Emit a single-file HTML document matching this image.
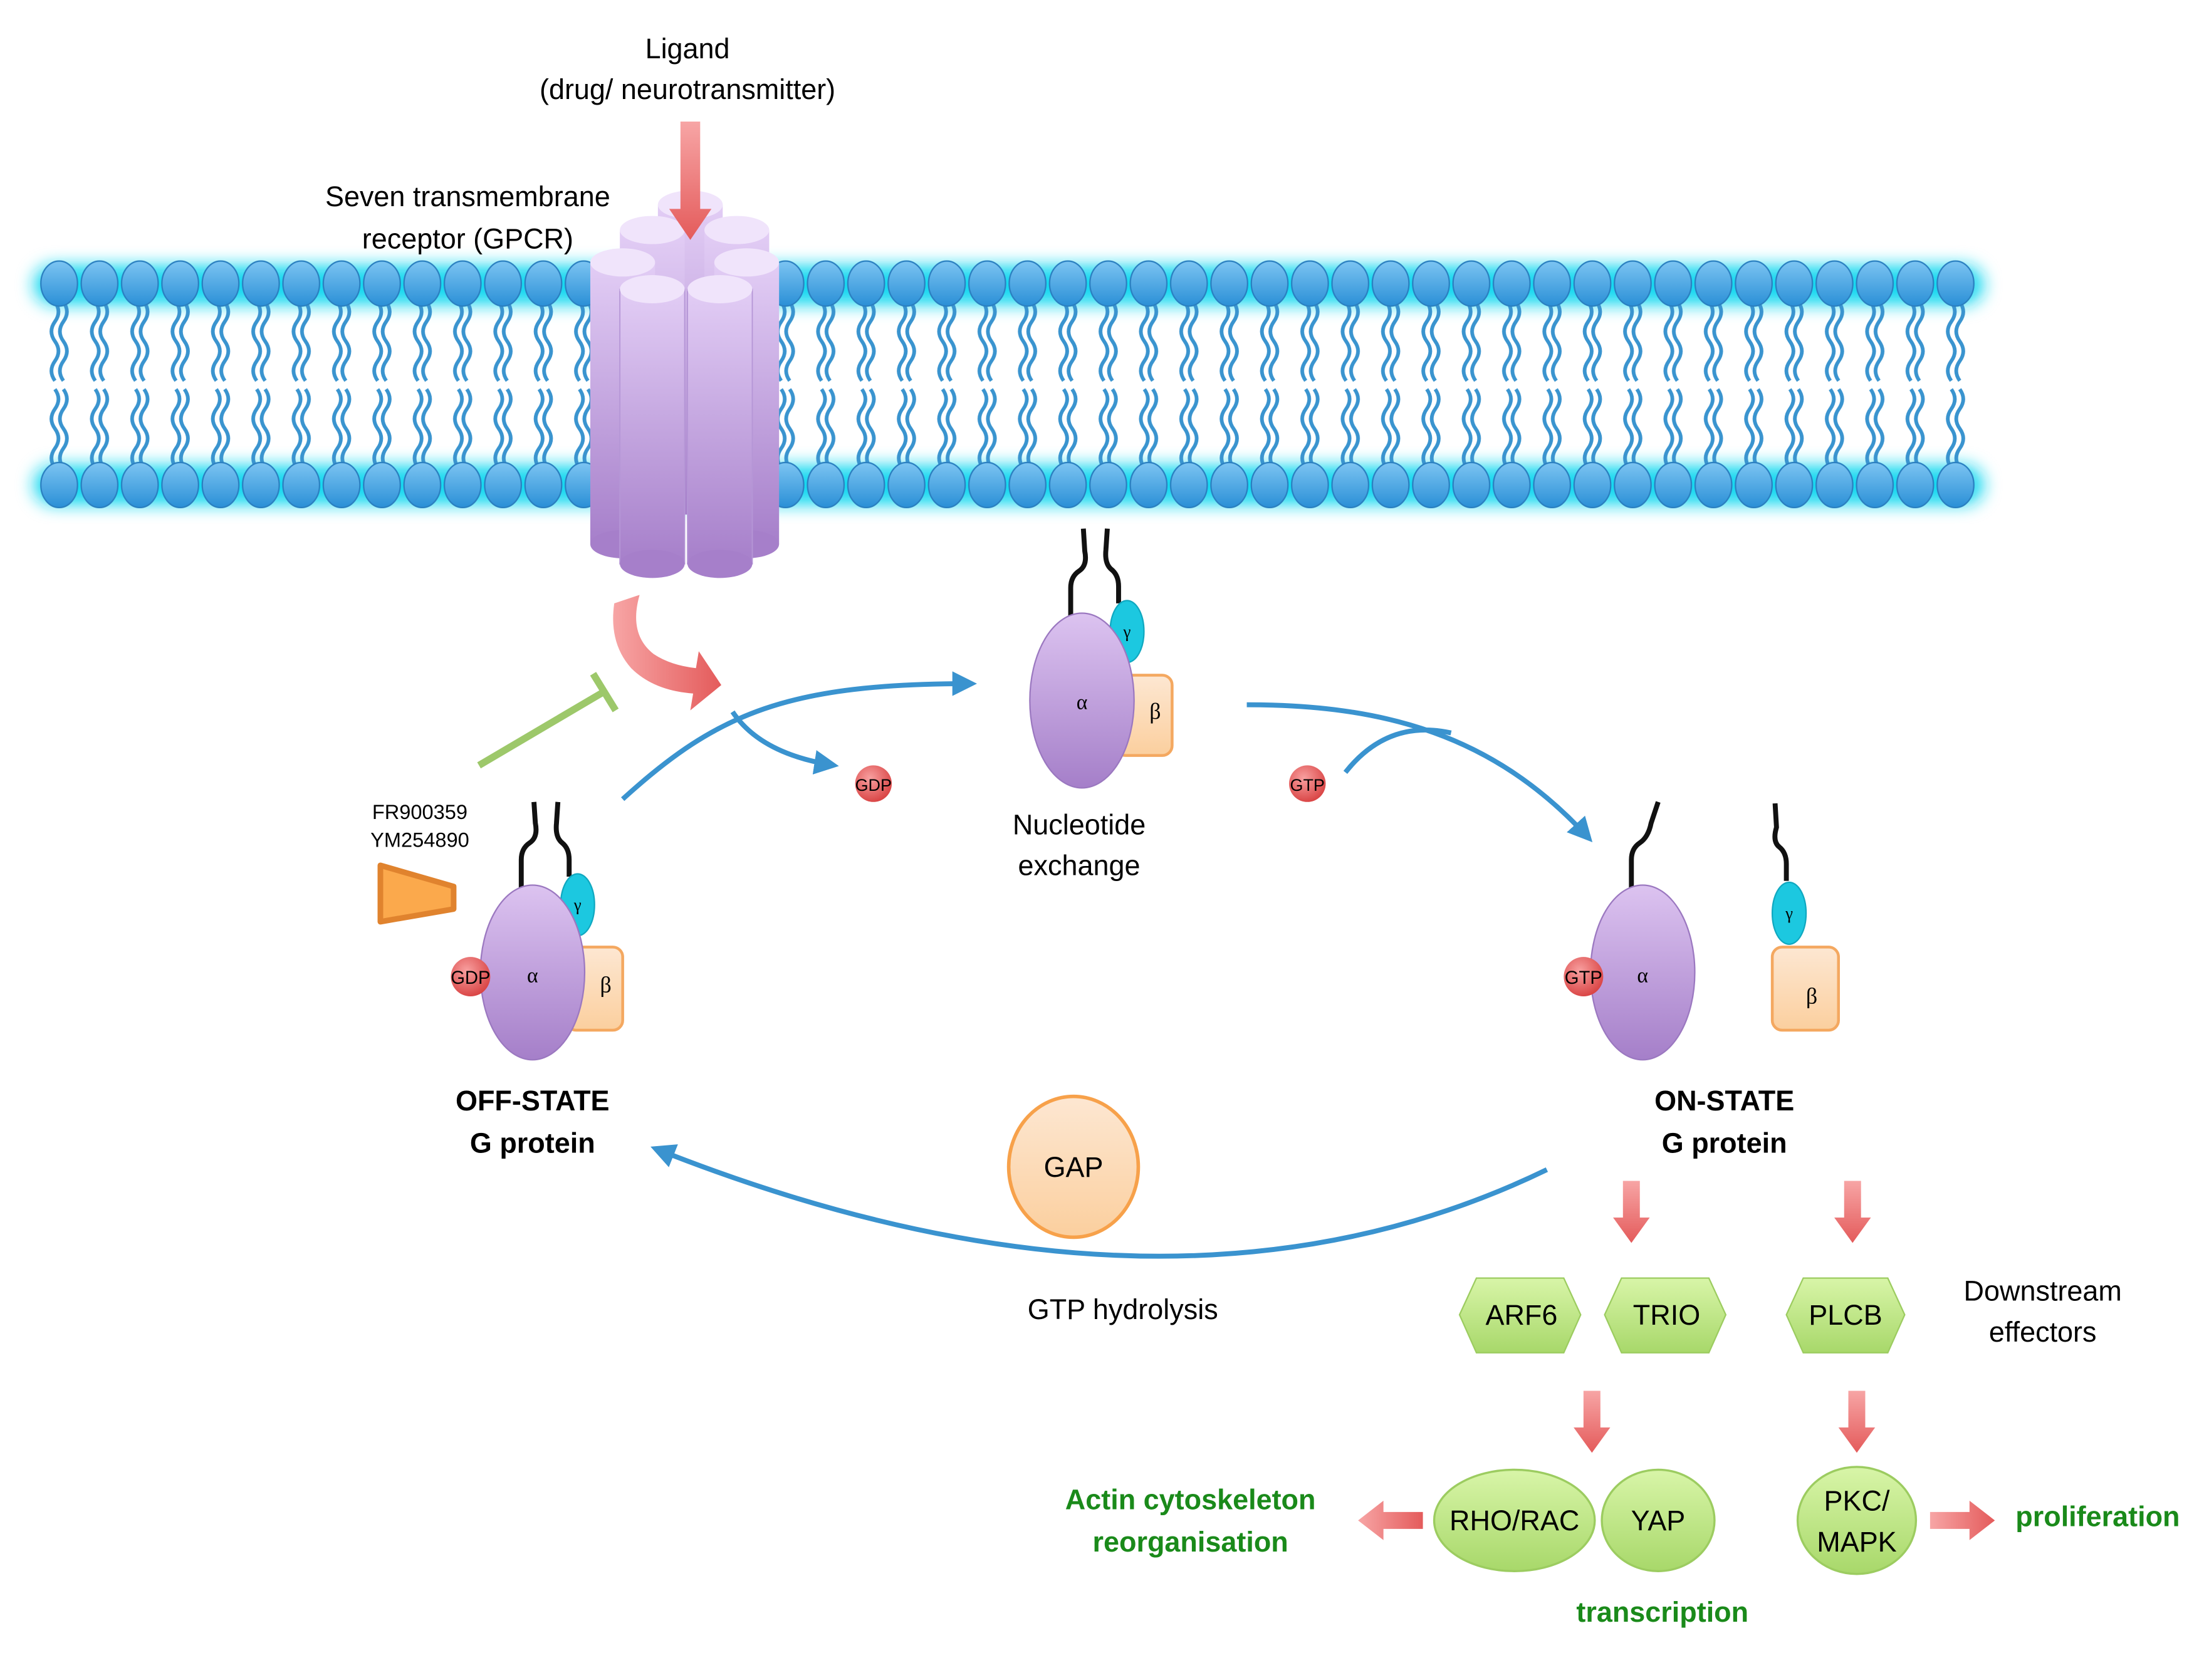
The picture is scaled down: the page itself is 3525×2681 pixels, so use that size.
<!DOCTYPE html>
<html><head><meta charset="utf-8"><style>html,body{margin:0;padding:0;background:#fff}svg{display:block}</style></head><body>
<svg width="3525" height="2681" viewBox="0 0 1568 1192" xmlns="http://www.w3.org/2000/svg" font-family="Liberation Sans, sans-serif">
<defs>
<linearGradient id="head" x1="0" y1="0" x2="0" y2="1"><stop offset="0" stop-color="#7cc4f2"/><stop offset="1" stop-color="#2a8fd6"/></linearGradient>
<linearGradient id="cyl" x1="0" y1="0" x2="0" y2="1"><stop offset="0" stop-color="#e2cdf5"/><stop offset="1" stop-color="#a67fca"/></linearGradient>
<linearGradient id="alpha" x1="0" y1="0" x2="0" y2="1"><stop offset="0" stop-color="#dcc3f0"/><stop offset="1" stop-color="#a57fc9"/></linearGradient>
<linearGradient id="beta" x1="0" y1="0" x2="0" y2="1"><stop offset="0" stop-color="#fde7d2"/><stop offset="1" stop-color="#fbcf9e"/></linearGradient>
<linearGradient id="grn" x1="0" y1="0" x2="0" y2="1"><stop offset="0" stop-color="#d8f5a8"/><stop offset="1" stop-color="#a8d86a"/></linearGradient>
<radialGradient id="red" cx="0.4" cy="0.35" r="0.7"><stop offset="0" stop-color="#f8a0a0"/><stop offset="1" stop-color="#d84040"/></radialGradient>
<linearGradient id="rarr" x1="0" y1="0" x2="1" y2="0"><stop offset="0" stop-color="#f7a5a5"/><stop offset="1" stop-color="#e45b5b"/></linearGradient>
<linearGradient id="rarrv" x1="0" y1="0" x2="0" y2="1"><stop offset="0" stop-color="#f7a5a5"/><stop offset="1" stop-color="#e45b5b"/></linearGradient>
<filter id="glow" x="-5%" y="-50%" width="110%" height="200%"><feGaussianBlur stdDeviation="6"/></filter>
<pattern id="lip" x="28" y="0" width="28.64" height="1192" patternUnits="userSpaceOnUse">
<g fill="none" stroke="#3a94cf" stroke-width="2.6">
<path d="M11,214 q5,7 0,14 q-5,7 0,14 q5,7 0,14 q-5,7 0,14"/>
<path d="M17,214 q5,7 0,14 q-5,7 0,14 q5,7 0,14 q-5,7 0,14"/>
<path d="M11,276 q5,7 0,14 q-5,7 0,14 q5,7 0,14 q-5,7 0,14"/>
<path d="M17,276 q5,7 0,14 q-5,7 0,14 q5,7 0,14 q-5,7 0,14"/>
</g>
<ellipse cx="14" cy="201" rx="13" ry="16" fill="url(#head)" stroke="#2a7fc0" stroke-width="1"/>
<ellipse cx="14" cy="344" rx="13" ry="16" fill="url(#head)" stroke="#2a7fc0" stroke-width="1"/>
</pattern>
<marker id="ba" viewBox="0 0 10 10" refX="8" refY="5" markerWidth="5" markerHeight="5" orient="auto"><path d="M0,0 L10,5 L0,10 z" fill="#3a93cf"/></marker>
</defs>

<rect x="24" y="188" width="1384" height="28" rx="14" fill="#19d8f0" filter="url(#glow)"/>
<rect x="24" y="330" width="1384" height="28" rx="14" fill="#19d8f0" filter="url(#glow)"/>
<rect x="28" y="180" width="1375" height="185" fill="url(#lip)"/>

<g stroke="none">
<rect x="467" y="145" width="46" height="220" fill="url(#cyl)"/><ellipse cx="490" cy="145" rx="23" ry="10" fill="#f0e4fb"/>
<rect x="440" y="163" width="46" height="220" fill="url(#cyl)"/><ellipse cx="463" cy="163" rx="23" ry="10" fill="#f0e4fb"/>
<rect x="500" y="163" width="46" height="220" fill="url(#cyl)"/><ellipse cx="523" cy="163" rx="23" ry="10" fill="#f0e4fb"/>
<rect x="419" y="186" width="46" height="200" fill="url(#cyl)"/><ellipse cx="442" cy="386" rx="23" ry="10" fill="#a67fca"/><ellipse cx="442" cy="186" rx="23" ry="10" fill="#f0e4fb"/>
<rect x="507" y="186" width="46" height="200" fill="url(#cyl)"/><ellipse cx="530" cy="386" rx="23" ry="10" fill="#a67fca"/><ellipse cx="530" cy="186" rx="23" ry="10" fill="#f0e4fb"/>
<rect x="440" y="205" width="46" height="195" fill="url(#cyl)" stroke="#b596d6" stroke-width="0.8"/><ellipse cx="463" cy="400" rx="23" ry="10" fill="#a67fca"/><ellipse cx="463" cy="205" rx="23" ry="10" fill="#f0e4fb"/>
<rect x="488" y="205" width="46" height="195" fill="url(#cyl)" stroke="#b596d6" stroke-width="0.8"/><ellipse cx="511" cy="400" rx="23" ry="10" fill="#a67fca"/><ellipse cx="511" cy="205" rx="23" ry="10" fill="#f0e4fb"/>
</g>
<path d="M483,86 h14 v62 h8 l-15,22 l-15,-22 h8 z" fill="url(#rarrv)"/>
<path d="M436,428 l18,-6 q-8,28 10,42 q12,8 30,10 l2,-12 l16,24 l-22,18 l2,-12 q-28,-2 -44,-18 q-16,-18 -12,-46 z" fill="url(#rarr)"/>
<line x1="340" y1="543" x2="430" y2="490" stroke="#9dc86a" stroke-width="5"/>
<line x1="421" y1="478" x2="437" y2="504" stroke="#9dc86a" stroke-width="5"/>

<text x="298" y="581" font-size="14.5" text-anchor="middle">FR900359</text>
<text x="298" y="601" font-size="14.5" text-anchor="middle">YM254890</text>
<path d="M270,614 L322,629 L322,645 L270,654 z" fill="#fba94c" stroke="#e0832e" stroke-width="4" stroke-linejoin="round"/>

<text x="488" y="41" font-size="20" text-anchor="middle">Ligand</text>
<text x="488" y="70" font-size="20" text-anchor="middle">(drug/ neurotransmitter)</text>
<text x="332" y="146" font-size="20" text-anchor="middle">Seven transmembrane</text>
<text x="332" y="176" font-size="20" text-anchor="middle">receptor (GPCR)</text>

<g fill="none" stroke="#111" stroke-width="3.5"><path d="M370,630 v-20 q0,-8 6,-12 q6,-4 4,-14 l-1,-15"/><path d="M404,622 v-12 q0,-8 -5,-12 q-5,-4 -4,-14 l1,-15"/></g>
<ellipse cx="410" cy="642" rx="12" ry="22" fill="#1cc8e0" stroke="#10a8c0"/>
<rect x="402" y="672" width="40" height="59" rx="7" fill="url(#beta)" stroke="#f4a860" stroke-width="2"/>
<ellipse cx="378" cy="690" rx="37" ry="62" fill="url(#alpha)" stroke="#9b78c0" stroke-width="1"/>
<circle cx="334" cy="693" r="14" fill="url(#red)"/>
<text x="334" y="698" font-size="13" text-anchor="middle">GDP</text>
<text x="378" y="697" font-size="15" text-anchor="middle" font-family="Liberation Serif, serif">α</text>
<text x="410" y="646" font-size="12" text-anchor="middle" font-family="Liberation Serif, serif">γ</text>
<text x="430" y="704" font-size="16" text-anchor="middle" font-family="Liberation Serif, serif">β</text>
<text x="378" y="788" font-size="20" font-weight="bold" text-anchor="middle">OFF-STATE</text>
<text x="378" y="818" font-size="20" font-weight="bold" text-anchor="middle">G protein</text>

<g fill="none" stroke="#111" stroke-width="3.5"><path d="M760,437 v-20 q0,-8 6,-12 q6,-4 4,-14 l-1,-16"/><path d="M794,428 v-12 q0,-8 -5,-12 q-5,-4 -4,-14 l1,-15"/></g>
<ellipse cx="800" cy="448" rx="12" ry="22" fill="#1cc8e0" stroke="#10a8c0"/>
<rect x="792" y="479" width="40" height="57" rx="7" fill="url(#beta)" stroke="#f4a860" stroke-width="2"/>
<ellipse cx="768" cy="497" rx="37" ry="62" fill="url(#alpha)" stroke="#9b78c0" stroke-width="1"/>
<text x="768" y="503" font-size="15" text-anchor="middle" font-family="Liberation Serif, serif">α</text>
<text x="800" y="452" font-size="12" text-anchor="middle" font-family="Liberation Serif, serif">γ</text>
<text x="820" y="510" font-size="16" text-anchor="middle" font-family="Liberation Serif, serif">β</text>
<text x="766" y="592" font-size="20" text-anchor="middle">Nucleotide</text>
<text x="766" y="621" font-size="20" text-anchor="middle">exchange</text>

<circle cx="620" cy="556" r="13" fill="url(#red)"/>
<text x="620" y="561" font-size="12" text-anchor="middle">GDP</text>
<circle cx="928" cy="556" r="13" fill="url(#red)"/>
<text x="928" y="561" font-size="12" text-anchor="middle">GTP</text>

<g fill="none" stroke="#111" stroke-width="3.5"><path d="M1158,630 v-20 q0,-8 6,-12 q6,-4 8,-14 l5,-15"/><path d="M1268,625 v-12 q0,-8 -5,-12 q-5,-4 -2,-14 l-1,-17"/></g>
<ellipse cx="1270" cy="648" rx="12" ry="22" fill="#1cc8e0" stroke="#10a8c0"/>
<text x="1270" y="652" font-size="12" text-anchor="middle" font-family="Liberation Serif, serif">γ</text>
<rect x="1258" y="672" width="47" height="59" rx="7" fill="url(#beta)" stroke="#f4a860" stroke-width="2"/>
<text x="1286" y="712" font-size="16" text-anchor="middle" font-family="Liberation Serif, serif">β</text>
<ellipse cx="1166" cy="690" rx="37" ry="62" fill="url(#alpha)" stroke="#9b78c0" stroke-width="1"/>
<circle cx="1124" cy="693" r="14" fill="url(#red)"/>
<text x="1124" y="698" font-size="13" text-anchor="middle">GTP</text>
<text x="1166" y="697" font-size="15" text-anchor="middle" font-family="Liberation Serif, serif">α</text>
<text x="1224" y="788" font-size="20" font-weight="bold" text-anchor="middle">ON-STATE</text>
<text x="1224" y="818" font-size="20" font-weight="bold" text-anchor="middle">G protein</text>

<g fill="none" stroke="#3a93cf" stroke-width="3.5">
<path d="M442,567 C510,505 560,485 690,485" marker-end="url(#ba)"/>
<path d="M520,505 Q540,535 592,543" marker-end="url(#ba)"/>
<path d="M885,500 C980,500 1060,520 1128,595" marker-end="url(#ba)"/>
<path d="M955,548 Q985,510 1030,520"/>
<path d="M1098,830 Q830,960 465,815" marker-end="url(#ba)"/>
</g>

<ellipse cx="762" cy="828" rx="46" ry="50" fill="url(#beta)" stroke="#f7a14a" stroke-width="2.5"/>
<text x="762" y="835" font-size="20" text-anchor="middle">GAP</text>
<text x="797" y="936" font-size="20" text-anchor="middle">GTP hydrolysis</text>

<g fill="url(#rarrv)">
<path d="M1152,838 h12 v26 h7 l-13,18 l-13,-18 h7 z"/>
<path d="M1309,838 h12 v26 h7 l-13,18 l-13,-18 h7 z"/>
<path d="M1124,987 h12 v26 h7 l-13,18 l-13,-18 h7 z"/>
<path d="M1312,987 h12 v26 h7 l-13,18 l-13,-18 h7 z"/>
</g>
<path d="M1010,1073 h-28 v-8 l-18,14 l18,14 v-8 h28 z" fill="url(#rarr)"/>
<path d="M1370,1073 h28 v-8 l18,14 l-18,14 v-8 h-28 z" fill="url(#rarr)"/>

<g fill="url(#grn)" stroke="#9ccc60" stroke-width="1">
<path d="M1048,907 h62 l12,26 l-12,27 h-62 l-12,-27 z"/>
<path d="M1151,907 h62 l12,26 l-12,27 h-62 l-12,-27 z"/>
<path d="M1280,907 h60 l12,26 l-12,27 h-60 l-12,-27 z"/>
</g>
<text x="1080" y="940" font-size="20" text-anchor="middle">ARF6</text>
<text x="1183" y="940" font-size="20" text-anchor="middle">TRIO</text>
<text x="1310" y="940" font-size="20" text-anchor="middle">PLCB</text>
<text x="1450" y="923" font-size="20" text-anchor="middle">Downstream</text>
<text x="1450" y="952" font-size="20" text-anchor="middle">effectors</text>

<g fill="url(#grn)" stroke="#9ccc60" stroke-width="1.5">
<ellipse cx="1075" cy="1079" rx="57" ry="36"/>
<ellipse cx="1177" cy="1079" rx="40" ry="36"/>
<ellipse cx="1318" cy="1079" rx="42" ry="38"/>
</g>
<text x="1075" y="1086" font-size="20" text-anchor="middle">RHO/RAC</text>
<text x="1177" y="1086" font-size="20" text-anchor="middle">YAP</text>
<text x="1318" y="1072" font-size="20" text-anchor="middle">PKC/</text>
<text x="1318" y="1101" font-size="20" text-anchor="middle">MAPK</text>

<g fill="#1a8a1a" font-weight="bold" font-size="20" text-anchor="middle">
<text x="845" y="1071">Actin cytoskeleton</text>
<text x="845" y="1101">reorganisation</text>
<text x="1489" y="1083">proliferation</text>
<text x="1180" y="1151">transcription</text>
</g>
</svg>
</body></html>
